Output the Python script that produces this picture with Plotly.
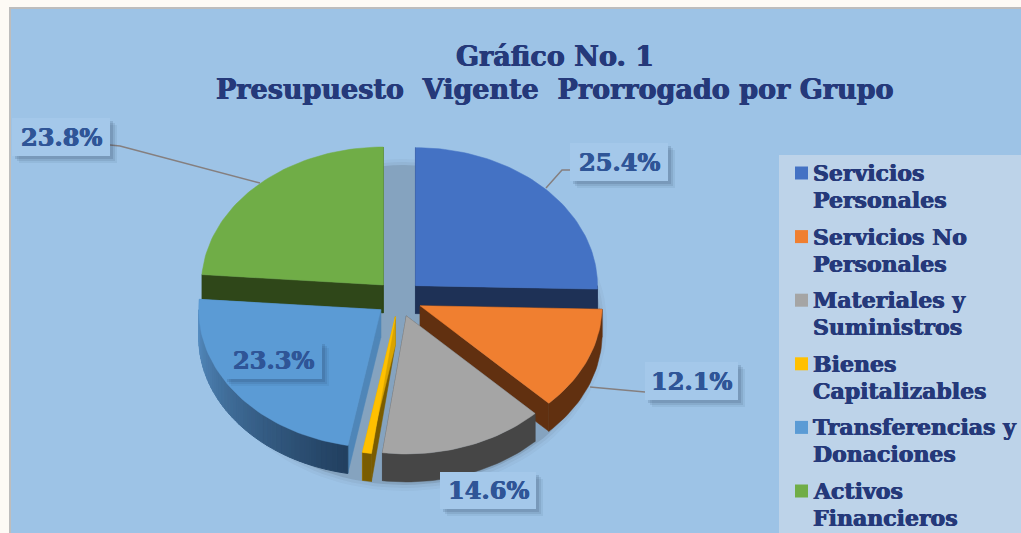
import math
import plotly.graph_objects as go

# ---- data ----
categories = ["Servicios<br>Personales", "Servicios No<br>Personales", "Materiales y<br>Suministros",
              "Bienes<br>Capitalizables", "Transferencias y<br>Donaciones", "Activos<br>Financieros"]
values = [25.4, 12.1, 14.6, 0.8, 23.3, 23.8]
label_text = ["25.4%", "12.1%", "14.6%", None, "23.3%", "23.8%"]
title_lines = ["Gráfico No. 1", "Presupuesto\u00a0 Vigente\u00a0 Prorrogado por Grupo"]

# ---- style ----
W, H = 1021, 533
top_colors = ["#4472c4", "#f07f30", "#a5a5a5", "#ffc000", "#5b9bd5", "#70ad47"]
wall_colors = ["#1e3156", "#613010", "#464646", "#7a5c00", "#4f86b8", "#2f4719"]
panel = "#9dc3e6"
navy = "#25397a"
label_col = "#2f5597"
serif = "DejaVu Serif"
CX, CY, A, B, DEPTH = 399, 298.5, 182, 138, 28
EXPL_X, EXPL_Y = 23, 18.4
paint_order = [0, 5, 1, 2, 3, 4]


def heavy(color, w=0.45):
    return "%spx 0 0 %s, -%spx 0 0 %s" % (w, color, w, color)


def pt(ox, oy, deg, dy=0):
    r = math.radians(deg)
    return ox + A * math.sin(r), oy - B * math.cos(r) + dy


def arc(ox, oy, a0, a1, dy=0):
    n = max(2, int(abs(a1 - a0) / 1.5))
    return [pt(ox, oy, a0 + (a1 - a0) * i / n, dy) for i in range(n + 1)]


def poly(points, color, lw=0.5):
    xs = [p[0] for p in points] + [points[0][0]]
    ys = [p[1] for p in points] + [points[0][1]]
    return go.Scatter(x=xs, y=ys, mode="lines", fill="toself", fillcolor=color,
                      line=dict(color=color, width=lw), hoverinfo="skip", showlegend=False)


def mix(c0, c1, t):
    return "rgb(%d,%d,%d)" % tuple(c0[i] + (c1[i] - c0[i]) * t for i in range(3))


fig = go.Figure()

# soft shadow under the pie
for grow, alpha in [(6, 0.03), (3, 0.05), (0, 0.12)]:
    pts = [(404 + (197 + grow) * math.sin(math.radians(d)), 325 - (160 + grow) * math.cos(math.radians(d)))
           for d in range(0, 360, 3)]
    fig.add_trace(poly(pts, "rgba(30,30,30,%.2f)" % alpha, lw=0))

# slice angles from the values
total = sum(values)
starts, cum = [], 0.0
for v in values:
    starts.append(cum / total * 360)
    cum += v

for i in paint_order:
    a0 = starts[i]
    a1 = a0 + values[i] / total * 360
    mid = math.radians((a0 + a1) / 2)
    ox = CX + EXPL_X * math.sin(mid)
    oy = CY - EXPL_Y * math.cos(mid)
    apex = (ox, oy)
    apex_d = (ox, oy + DEPTH)
    # radial side walls
    for ang in (a0, a1):
        rim = pt(ox, oy, ang)
        rim_d = pt(ox, oy, ang, DEPTH)
        col = wall_colors[i]
        if i == 3 and ang == a1:
            col = "#d9a400"
        fig.add_trace(poly([apex, rim, rim_d, apex_d], col))
    # outer wall, only the part facing the viewer
    w0, w1 = max(a0, 90), min(a1, 270)
    if w1 > w0:
        if i == 4:
            steps = 45
            for s in range(steps):
                b0 = w0 + (w1 - w0) * s / steps
                b1 = w0 + (w1 - w0) * (s + 1) / steps
                top = [pt(ox, oy, b0), pt(ox, oy, b1)]
                bot = [pt(ox, oy, b1, DEPTH), pt(ox, oy, b0, DEPTH)]
                fig.add_trace(poly(top + bot, mix((0x22, 0x40, 0x60), (0x55, 0x8c, 0xc0), s / (steps - 1)), lw=1))
        else:
            fig.add_trace(poly(arc(ox, oy, w0, w1) + arc(ox, oy, w1, w0, DEPTH), wall_colors[i]))
    # top face
    fig.add_trace(poly([apex] + arc(ox, oy, a0, a1), top_colors[i]))

shapes = [
    dict(type="rect", x0=10, y0=8, x1=W + 5, y1=H + 5, fillcolor=panel,
         line=dict(color="#bdbdbd", width=2), layer="below"),
    dict(type="rect", x0=779, y0=155, x1=W + 5, y1=H + 5, fillcolor="#bdd3e9",
         line=dict(width=0), layer="below"),
]
annotations = []

# title
for txt, y in zip(title_lines, [56, 89]):
    annotations.append(dict(x=555, y=y, text="<b>%s</b>" % txt, showarrow=False, xanchor="center",
                            yanchor="middle",
                            font=dict(family=serif, size=27, color=navy, shadow=heavy(navy))))

# leader lines
leaders = [[(110, 145), (120, 146), (260, 183)],
           [(570, 170), (562, 170), (546, 188)],
           [(645, 392), (590, 387)]]
for ln in leaders:
    fig.add_trace(go.Scatter(x=[p[0] for p in ln], y=[p[1] for p in ln], mode="lines",
                             line=dict(color="#857f7f", width=1.5), hoverinfo="skip", showlegend=False))

# value labels in their boxes with soft shadow
boxes = {0: (570, 143, 668, 181, "#a4c8ea"), 1: (645, 362, 738, 400, "#a4c8ea"),
         2: (440, 472, 536, 509, "#a4c8ea"), 4: (224, 341, 322, 379, "#5b9bd5"),
         5: (12, 118, 110, 156, "#a4c8ea")}
for i, (x0, y0, x1, y1, fill) in boxes.items():
    for off, alpha in [(7, 0.07), (5, 0.10), (3, 0.14)]:
        shapes.append(dict(type="rect", x0=x0 + off, y0=y0 + off, x1=x1 + off, y1=y1 + off,
                           fillcolor="rgba(30,50,80,%.2f)" % alpha, line=dict(width=0), layer="above"))
    shapes.append(dict(type="rect", x0=x0, y0=y0, x1=x1, y1=y1, fillcolor=fill,
                       line=dict(width=0), layer="above"))
    annotations.append(dict(x=(x0 + x1) / 2, y=(y0 + y1) / 2, text="<b>%s</b>" % label_text[i], showarrow=False,
                            xanchor="center", yanchor="middle",
                            font=dict(family=serif, size=24, color=label_col, shadow=heavy(label_col))))

# legend panel
line_h, item_h, ly = 27, 63.6, 173
for k, cat in enumerate(categories):
    y = ly + k * item_h
    shapes.append(dict(type="rect", x0=795, y0=y - 6.5, x1=808, y1=y + 6.5,
                       fillcolor=top_colors[k], line=dict(width=0), layer="above"))
    for j, part in enumerate(cat.split("<br>")):
        annotations.append(dict(x=811, y=y + j * line_h, text="<b>%s</b>" % part, showarrow=False,
                                xanchor="left", yanchor="middle",
                                font=dict(family=serif, size=22, color=navy, shadow=heavy(navy))))

fig.update_layout(
    width=W, height=H, margin=dict(l=0, r=0, t=0, b=0),
    paper_bgcolor="#fdfaf5", plot_bgcolor="rgba(0,0,0,0)", showlegend=False,
    xaxis=dict(range=[0, W], visible=False, fixedrange=True),
    yaxis=dict(range=[H, 0], visible=False, fixedrange=True),
    shapes=shapes, annotations=annotations,
)
fig.write_html("out.html", config=dict(displayModeBar=False),
               post_script="document.body.style.margin='0';document.body.style.overflow='hidden';")
